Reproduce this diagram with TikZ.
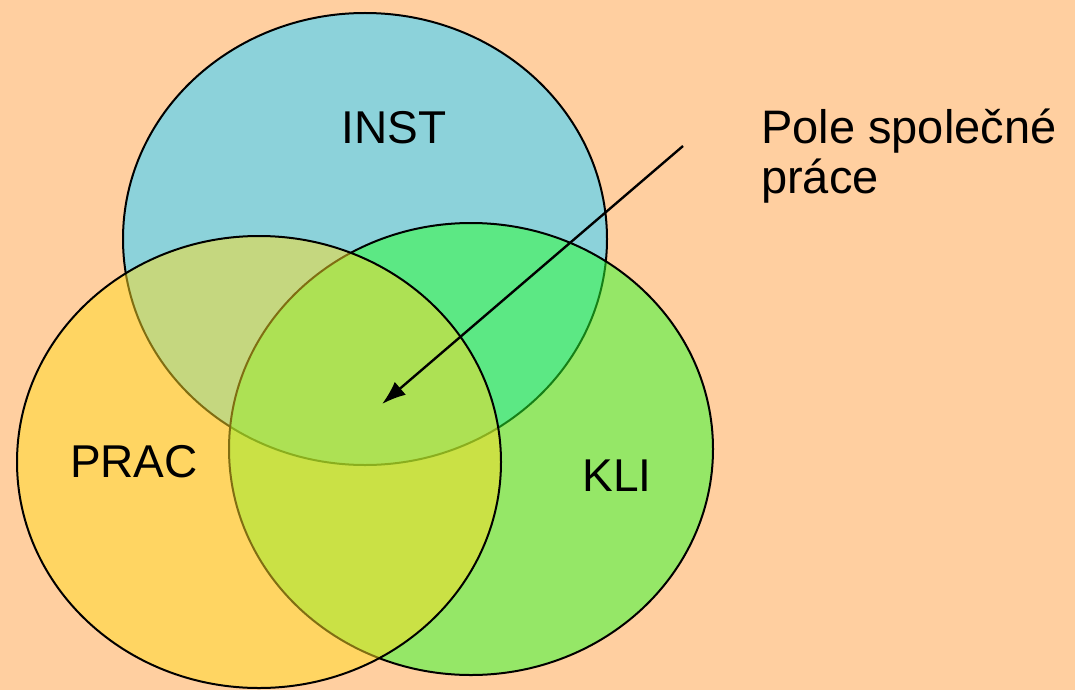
\documentclass[tikz,border=0pt]{standalone}
\usepackage{fontspec}
\setmainfont{Liberation Sans}
\usepackage{xcolor}
\usetikzlibrary{shapes.geometric,arrows.meta}

\definecolor{slidebg}{RGB}{255,207,160}
\definecolor{instblue}{RGB}{140,210,218}
\definecolor{kligreen}{RGB}{45,255,47}
\definecolor{pracgold}{RGB}{255,220,37}

\begin{document}
\begin{tikzpicture}[x=1pt, y=-1pt, >={Latex[length=24pt,width=17pt]},
  set/.style={ellipse, draw=black, line width=2pt, inner sep=0pt,
    minimum width=484pt, minimum height=452pt},
  lbl/.style={inner sep=0pt, anchor=base, font=\fontsize{46}{52}\selectfont}]
  \useasboundingbox (0,0) rectangle (1075,690);
  \fill [slidebg] (0,0) rectangle (1075,690);

  % the three fields, back to front
  \node [set, fill=instblue] (INST) at (365,239) {};
  \node [set, fill=kligreen, fill opacity=0.5] (KLI) at (471,449) {};
  \node [set, fill=pracgold, fill opacity=0.5] (PRAC) at (259,462) {};

  \node [lbl] (instlbl) at (394,143) {INST};
  \node [lbl] (praclbl) at (134,477) {PRAC};
  \node [lbl] (klilbl) at (617,491) {KLI};

  \node [inner sep=0pt, anchor=base west, align=left,
    font=\fontsize{47}{50}\selectfont] (pole) at (761,193) {Pole společné\\práce};

  \coordinate (tail) at (683,146);
  \coordinate (head) at (382,404);
  \draw [->, line width=2.4pt] (tail) -- (head);
\end{tikzpicture}
\end{document}
